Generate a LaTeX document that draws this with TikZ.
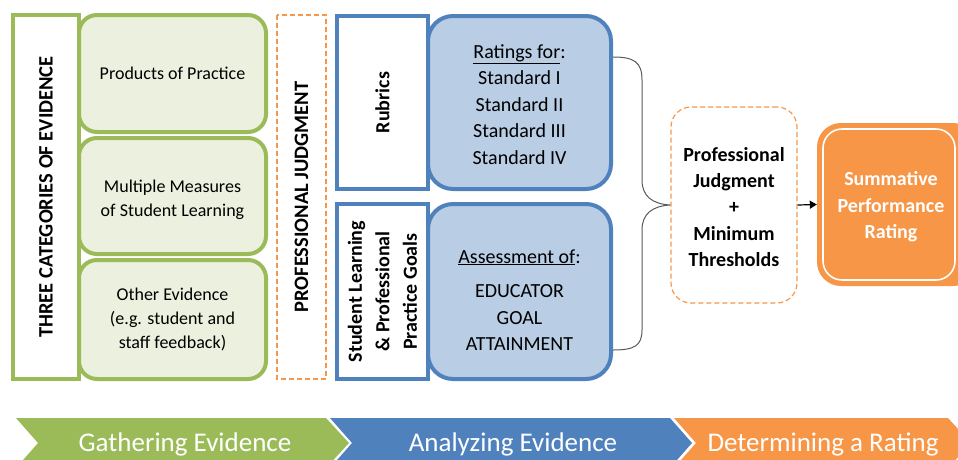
\documentclass[tikz,border=0pt]{standalone}
\usepackage{fontspec}
\setmainfont{Carlito}
\usetikzlibrary{arrows.meta}
\definecolor{gr}{HTML}{9BBB59}
\definecolor{grl}{HTML}{EBF1DE}
\definecolor{bl}{HTML}{4F81BD}
\definecolor{bll}{HTML}{B9CDE5}
\definecolor{orn}{HTML}{F79646}
\definecolor{brc}{HTML}{595959}
\tikzset{
  greenbox/.style={draw=gr, fill=grl, line width=4pt, rounded corners=18pt, inner sep=0pt, align=center, font=\fontsize{18}{24}\selectfont},
  greenlab/.style={draw=gr, fill=white, line width=4pt, inner sep=0pt, rotate=90, align=center, font=\bfseries\fontsize{20.5}{24}\selectfont},
  dashbox/.style={draw=orn, line width=1.2pt, dash pattern=on 5pt off 3pt, inner sep=0pt, align=center},
  bluebox/.style={draw=bl, fill=bll, line width=4pt, rounded corners=25pt, inner sep=0pt, align=center, font=\fontsize{20}{26}\selectfont},
  bluetext/.style={inner sep=0pt, align=center, font=\fontsize{20}{26.5}\selectfont},
  bluelab/.style={draw=bl, fill=white, line width=4pt, inner sep=0pt, rotate=90, align=center, font=\bfseries\fontsize{20}{27.5}\selectfont},
  phase/.style={text=white, font=\fontsize{27}{30}\selectfont, anchor=base, inner sep=0pt},
  brace/.style={draw=brc, line width=1pt}
}
\begin{document}
\begin{tikzpicture}[x=1pt,y=-1pt]
\useasboundingbox (0,0) rectangle (958,459);
\clip (0,0) rectangle (958,459);

% gathering evidence
\node[greenbox, minimum width=187pt, minimum height=117pt] (pp) at (172.5,73.5) {Products of Practice};
\node[greenbox, minimum width=187pt, minimum height=116pt] (mm) at (172.5,196) {};
\node[inner sep=0pt, align=center, font=\fontsize{18}{24}\selectfont] (mmt) at (172.5,200) {Multiple Measures\\of Student Learning};
\node[greenbox, minimum width=187pt, minimum height=119pt] (oe) at (172.5,319.5) {Other Evidence\\(e.g. student and\\staff feedback)};
\node[greenlab, minimum width=364pt, minimum height=66pt] (tc) at (46,197) {THREE CATEGORIES OF EVIDENCE};
\node[dashbox, rotate=90, minimum width=364pt, minimum height=49pt, font=\bfseries\fontsize{20.5}{24}\selectfont] (pjv) at (301.5,197) {PROFESSIONAL JUDGMENT};

% analyzing evidence
\node[bluebox, minimum width=183pt, minimum height=173pt] (rt) at (519.5,102.5) {};
\node[bluetext] (rtt) at (519.5,104.5) {\underline{Ratings for}:\\Standard I\\Standard II\\Standard III\\Standard IV};
\node[bluebox, minimum width=183pt, minimum height=175pt] (as) at (519.5,291.5) {};
\node[bluetext] (ast) at (519.5,300) {\underline{Assessment of}:\\[8pt]EDUCATOR\\GOAL\\ATTAINMENT};
\node[bluelab, minimum width=173pt, minimum height=91pt] (rb) at (382.5,102.5) {Rubrics};
\node[bluelab, minimum width=175pt, minimum height=91pt] (sl) at (382.5,291.5) {Student Learning\\\& Professional\\Practice Goals};

% determining
\node[dashbox, rounded corners=20pt, minimum width=126pt, minimum height=196pt] (pj) at (734,205) {};
\node[inner sep=0pt, align=center, font=\bfseries\fontsize{20}{26.3}\selectfont] (pjt) at (734,207) {Professional\\Judgment\\+\\Minimum\\Thresholds};
\node[fill=orn, rounded corners=24pt, minimum width=160pt, minimum height=163pt, inner sep=0pt] (sumo) at (897,204.5) {};
\node[draw=white, line width=1.6pt, rounded corners=19pt, minimum width=132pt, minimum height=151pt, inner sep=0pt] (sum) at (889,204.5) {};
\node[inner sep=0pt, align=center, text=white, font=\bfseries\fontsize{20}{26.5}\selectfont] (sumt) at (891,207) {Summative\\Performance\\Rating};

% brace
\coordinate (bt) at (613,57);
\coordinate (bb) at (613,350);
\draw[brace] (bt) .. controls (634,57) and (642,62) .. (642,80) -- (642,180)
  .. controls (642,196) and (652,204) .. (pj.west)
  .. controls (652,206) and (642,214) .. (642,230) -- (642,330)
  .. controls (642,346) and (634,350) .. (bb);

% arrow
\draw[line width=1.2pt, -{Triangle[length=7pt,width=8pt]}] (pj.east) -- (sumo.west);

% phase chevrons
\fill[gr] (16,418) -- (326,418) -- (349,443) -- (326,468) -- (16,468) -- (38,443) -- cycle;
\fill[bl] (330,418) -- (670,418) -- (692,443) -- (670,468) -- (330,468) -- (352,443) -- cycle;
\fill[orn] (674,418) -- (948,418) -- (971,443) -- (948,468) -- (674,468) -- (696,443) -- cycle;
\node[phase] (ge) at (185,451) {Gathering Evidence};
\node[phase] (ae) at (513,451) {Analyzing Evidence};
\node[phase] (dr) at (823,451) {Determining a Rating};
\end{tikzpicture}
\end{document}
